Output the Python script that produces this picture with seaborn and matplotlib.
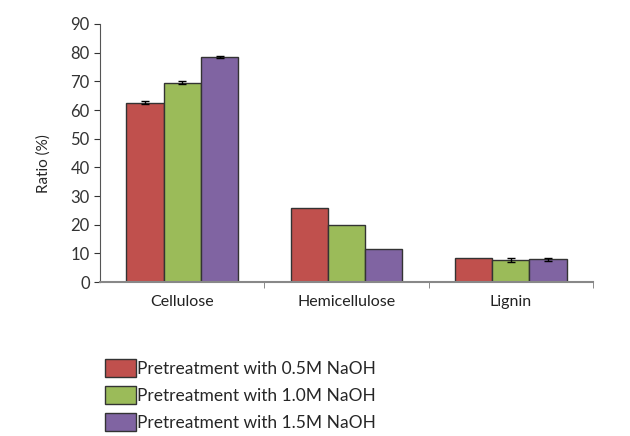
import numpy as np
import pandas as pd
import matplotlib
matplotlib.use("Agg")
import matplotlib.pyplot as plt
import seaborn as sns
from matplotlib.patches import Patch

categories = ["Cellulose", "Hemicellulose", "Lignin"]
series = ["Pretreatment with 0.5M NaOH", "Pretreatment with 1.0M NaOH", "Pretreatment with 1.5M NaOH"]
vals_05 = [62.5, 26.0, 8.3]
vals_10 = [69.5, 20.0, 7.7]
vals_15 = [78.5, 11.7, 7.9]
err_05 = [0.5, 0.0, 0.0]
err_10 = [0.6, 0.0, 0.6]
err_15 = [0.5, 0.0, 0.5]
colors = ["#C0504D", "#9BBB59", "#8064A2"]

rows = []
for s, v, e in zip(series, [vals_05, vals_10, vals_15], [err_05, err_10, err_15]):
    for c, vv, ee in zip(categories, v, e):
        rows.append({"Component": c, "Treatment": s, "Ratio": vv, "err": ee})
df = pd.DataFrame(rows)

sns.set_style("white")
plt.rcParams['font.family'] = ['Lato', 'DejaVu Sans']

fig = plt.figure(figsize=(6.3, 4.36), dpi=100)
ax = fig.add_axes([0.159, 0.353, 0.782, 0.592])

sns.barplot(data=df, x="Component", y="Ratio", hue="Treatment", order=categories,
            hue_order=series, palette=colors, width=0.68, edgecolor="#333333",
            linewidth=1.0, errorbar=None, legend=False, ax=ax, saturation=1)

# error bars placed on the drawn bars (patches are ordered by hue, then category)
order = [(s, c) for s in series for c in categories]
lookup = {(r["Treatment"], r["Component"]): r["err"] for _, r in df.iterrows()}
for patch, key in zip(ax.patches, order):
    e = lookup[key]
    if e > 0:
        xc = patch.get_x() + patch.get_width() / 2
        ax.errorbar(xc, patch.get_height(), yerr=e, color="black",
                    capsize=3, elinewidth=1, capthick=1)

ax.set_ylim(0, 90)
ax.set_yticks(np.arange(0, 91, 10))
ax.set_xlim(-0.5, 2.5)
ax.set_xlabel("")
ax.set_ylabel("Ratio (%)", fontsize=11, labelpad=14)
ax.yaxis.set_label_coords(-0.1, 0.46)
ax.tick_params(axis="y", labelsize=12, colors="#333333", direction="out", length=4, left=True)
ax.tick_params(axis="x", labelsize=11.5, colors="#222222", length=0, pad=9)
ax.set_xticks([0.5, 1.5, 2.5], minor=True)
ax.tick_params(axis="x", which="minor", length=4, direction="out", bottom=True, color="#777777")
for side in ["top", "right"]:
    ax.spines[side].set_visible(False)
ax.spines["left"].set_color("#555555")
ax.spines["bottom"].set_color("#888888")
ax.spines["bottom"].set_linewidth(1.5)

handles = [Patch(facecolor=c, edgecolor="#333333", label=s) for c, s in zip(colors, series)]
fig.legend(handles=handles, loc="upper left", bbox_to_anchor=(0.156, 0.193),
           frameon=False, fontsize=12.5, handlelength=1.75, handleheight=1.2,
           handletextpad=0.1, labelspacing=0.55, borderaxespad=0)

fig.savefig("out.png", dpi=100)
